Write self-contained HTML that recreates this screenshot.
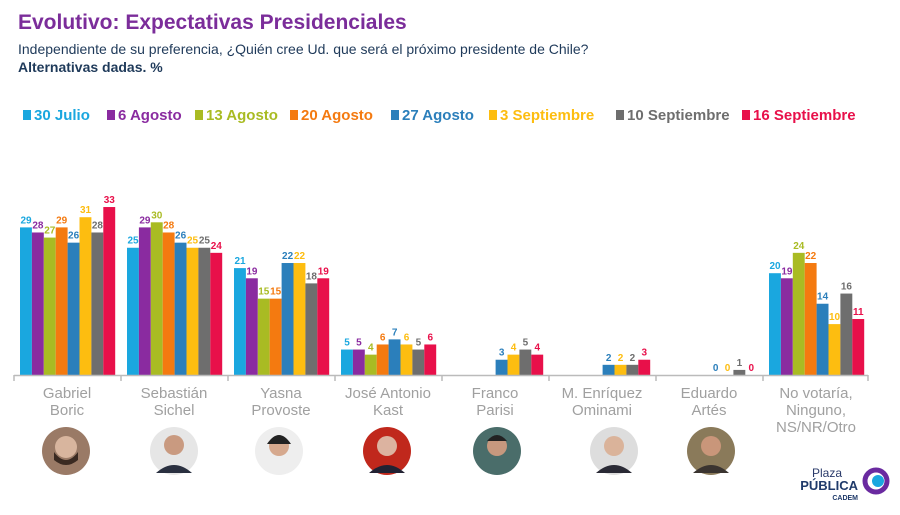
<!DOCTYPE html>
<html><head><meta charset="utf-8"><style>
body{margin:0;width:900px;height:510px;background:#fff;font-family:"Liberation Sans",sans-serif;overflow:hidden}
.c0{fill:#1aa7df}.c1{fill:#8a2ba0}.c2{fill:#a9bb23}.c3{fill:#f47a10}.c4{fill:#2b7fbb}.c5{fill:#fdbd10}.c6{fill:#6e6e6e}.c7{fill:#e8104a}
.v{font-size:10px;font-weight:bold;text-anchor:middle}
</style></head><body>
<svg width="900" height="510" xmlns="http://www.w3.org/2000/svg" font-family="Liberation Sans, sans-serif">
<text x="18" y="29" font-size="21" font-weight="bold" fill="#7b2d9a">Evolutivo: Expectativas Presidenciales</text>
<text x="18" y="54" font-size="14" fill="#1f3a5a">Independiente de su preferencia, ¿Quién cree Ud. que será el próximo presidente de Chile?</text>
<text x="18" y="72" font-size="14" font-weight="bold" fill="#1f3a5a">Alternativas dadas. %</text>
<g font-size="15" font-weight="bold">
<rect x="23" y="110" width="8" height="10" class="c0"/><text x="34" y="120" class="c0">30 Julio</text>
<rect x="107" y="110" width="8" height="10" class="c1"/><text x="118" y="120" class="c1">6 Agosto</text>
<rect x="195" y="110" width="8" height="10" class="c2"/><text x="206" y="120" class="c2">13 Agosto</text>
<rect x="290" y="110" width="8" height="10" class="c3"/><text x="301" y="120" class="c3">20 Agosto</text>
<rect x="391" y="110" width="8" height="10" class="c4"/><text x="402" y="120" class="c4">27 Agosto</text>
<rect x="489" y="110" width="8" height="10" class="c5"/><text x="500" y="120" class="c5">3 Septiembre</text>
<rect x="616" y="110" width="8" height="10" class="c6"/><text x="627" y="120" class="c6">10 Septiembre</text>
<rect x="742" y="110" width="8" height="10" class="c7"/><text x="753" y="120" class="c7">16 Septiembre</text>
</g>

<g transform="translate(20,0)">
<rect class="c0" x="0" y="227.39" width="11.9" height="147.61"/><text class="v c0" x="6" y="223.4">29</text>
<rect class="c1" x="11.9" y="232.48" width="11.9" height="142.52"/><text class="v c1" x="17.9" y="228.5">28</text>
<rect class="c2" x="23.8" y="237.57" width="11.9" height="137.43"/><text class="v c2" x="29.8" y="233.6">27</text>
<rect class="c3" x="35.7" y="227.39" width="11.9" height="147.61"/><text class="v c3" x="41.7" y="223.4">29</text>
<rect class="c4" x="47.6" y="242.66" width="11.9" height="132.34"/><text class="v c4" x="53.6" y="238.7">26</text>
<rect class="c5" x="59.5" y="217.21" width="11.9" height="157.79"/><text class="v c5" x="65.5" y="213.2">31</text>
<rect class="c6" x="71.4" y="232.48" width="11.9" height="142.52"/><text class="v c6" x="77.4" y="228.5">28</text>
<rect class="c7" x="83.3" y="207.03" width="11.9" height="167.97"/><text class="v c7" x="89.3" y="203">33</text>
</g>
<g transform="translate(127,0)">
<rect class="c0" x="0" y="247.75" width="11.9" height="127.25"/><text class="v c0" x="6" y="243.7">25</text>
<rect class="c1" x="11.9" y="227.39" width="11.9" height="147.61"/><text class="v c1" x="17.9" y="223.4">29</text>
<rect class="c2" x="23.8" y="222.3" width="11.9" height="152.7"/><text class="v c2" x="29.8" y="218.3">30</text>
<rect class="c3" x="35.7" y="232.48" width="11.9" height="142.52"/><text class="v c3" x="41.7" y="228.5">28</text>
<rect class="c4" x="47.6" y="242.66" width="11.9" height="132.34"/><text class="v c4" x="53.6" y="238.7">26</text>
<rect class="c5" x="59.5" y="247.75" width="11.9" height="127.25"/><text class="v c5" x="65.5" y="243.7">25</text>
<rect class="c6" x="71.4" y="247.75" width="11.9" height="127.25"/><text class="v c6" x="77.4" y="243.7">25</text>
<rect class="c7" x="83.3" y="252.84" width="11.9" height="122.16"/><text class="v c7" x="89.3" y="248.8">24</text>
</g>
<g transform="translate(234,0)">
<rect class="c0" x="0" y="268.11" width="11.9" height="106.89"/><text class="v c0" x="6" y="264.1">21</text>
<rect class="c1" x="11.9" y="278.29" width="11.9" height="96.71"/><text class="v c1" x="17.9" y="274.3">19</text>
<rect class="c2" x="23.8" y="298.65" width="11.9" height="76.35"/><text class="v c2" x="29.8" y="294.6">15</text>
<rect class="c3" x="35.7" y="298.65" width="11.9" height="76.35"/><text class="v c3" x="41.7" y="294.6">15</text>
<rect class="c4" x="47.6" y="263.02" width="11.9" height="111.98"/><text class="v c4" x="53.6" y="259">22</text>
<rect class="c5" x="59.5" y="263.02" width="11.9" height="111.98"/><text class="v c5" x="65.5" y="259">22</text>
<rect class="c6" x="71.4" y="283.38" width="11.9" height="91.62"/><text class="v c6" x="77.4" y="279.4">18</text>
<rect class="c7" x="83.3" y="278.29" width="11.9" height="96.71"/><text class="v c7" x="89.3" y="274.3">19</text>
</g>
<g transform="translate(341,0)">
<rect class="c0" x="0" y="349.55" width="11.9" height="25.45"/><text class="v c0" x="6" y="345.5">5</text>
<rect class="c1" x="11.9" y="349.55" width="11.9" height="25.45"/><text class="v c1" x="17.9" y="345.5">5</text>
<rect class="c2" x="23.8" y="354.64" width="11.9" height="20.36"/><text class="v c2" x="29.8" y="350.6">4</text>
<rect class="c3" x="35.7" y="344.46" width="11.9" height="30.54"/><text class="v c3" x="41.7" y="340.5">6</text>
<rect class="c4" x="47.6" y="339.37" width="11.9" height="35.63"/><text class="v c4" x="53.6" y="335.4">7</text>
<rect class="c5" x="59.5" y="344.46" width="11.9" height="30.54"/><text class="v c5" x="65.5" y="340.5">6</text>
<rect class="c6" x="71.4" y="349.55" width="11.9" height="25.45"/><text class="v c6" x="77.4" y="345.5">5</text>
<rect class="c7" x="83.3" y="344.46" width="11.9" height="30.54"/><text class="v c7" x="89.3" y="340.5">6</text>
</g>
<g transform="translate(448,0)">
<rect class="c4" x="47.6" y="359.73" width="11.9" height="15.27"/><text class="v c4" x="53.6" y="355.7">3</text>
<rect class="c5" x="59.5" y="354.64" width="11.9" height="20.36"/><text class="v c5" x="65.5" y="350.6">4</text>
<rect class="c6" x="71.4" y="349.55" width="11.9" height="25.45"/><text class="v c6" x="77.4" y="345.5">5</text>
<rect class="c7" x="83.3" y="354.64" width="11.9" height="20.36"/><text class="v c7" x="89.3" y="350.6">4</text>
</g>
<g transform="translate(555,0)">
<rect class="c4" x="47.6" y="364.82" width="11.9" height="10.18"/><text class="v c4" x="53.6" y="360.8">2</text>
<rect class="c5" x="59.5" y="364.82" width="11.9" height="10.18"/><text class="v c5" x="65.5" y="360.8">2</text>
<rect class="c6" x="71.4" y="364.82" width="11.9" height="10.18"/><text class="v c6" x="77.4" y="360.8">2</text>
<rect class="c7" x="83.3" y="359.73" width="11.9" height="15.27"/><text class="v c7" x="89.3" y="355.7">3</text>
</g>
<g transform="translate(662,0)">
<text class="v c4" x="53.6" y="371">0</text>
<text class="v c5" x="65.5" y="371">0</text>
<rect class="c6" x="71.4" y="369.91" width="11.9" height="5.09"/><text class="v c6" x="77.4" y="365.9">1</text>
<text class="v c7" x="89.3" y="371">0</text>
</g>
<g transform="translate(769,0)">
<rect class="c0" x="0" y="273.2" width="11.9" height="101.8"/><text class="v c0" x="6" y="269.2">20</text>
<rect class="c1" x="11.9" y="278.29" width="11.9" height="96.71"/><text class="v c1" x="17.9" y="274.3">19</text>
<rect class="c2" x="23.8" y="252.84" width="11.9" height="122.16"/><text class="v c2" x="29.8" y="248.8">24</text>
<rect class="c3" x="35.7" y="263.02" width="11.9" height="111.98"/><text class="v c3" x="41.7" y="259">22</text>
<rect class="c4" x="47.6" y="303.74" width="11.9" height="71.26"/><text class="v c4" x="53.6" y="299.7">14</text>
<rect class="c5" x="59.5" y="324.1" width="11.9" height="50.9"/><text class="v c5" x="65.5" y="320.1">10</text>
<rect class="c6" x="71.4" y="293.56" width="11.9" height="81.44"/><text class="v c6" x="77.4" y="289.6">16</text>
<rect class="c7" x="83.3" y="319.01" width="11.9" height="55.99"/><text class="v c7" x="89.3" y="315">11</text>
</g>

<line x1="14" y1="375.5" x2="868" y2="375.5" stroke="#bbb" stroke-width="1.5"/>
<g stroke="#bbb" stroke-width="1.5">
<line x1="14" y1="375" x2="14" y2="381"/><line x1="121" y1="375" x2="121" y2="381"/><line x1="228" y1="375" x2="228" y2="381"/><line x1="335" y1="375" x2="335" y2="381"/><line x1="442" y1="375" x2="442" y2="381"/><line x1="549" y1="375" x2="549" y2="381"/><line x1="656" y1="375" x2="656" y2="381"/><line x1="763" y1="375" x2="763" y2="381"/><line x1="868" y1="375" x2="868" y2="381"/>
</g>
<g font-size="15" fill="#a0a0a0" text-anchor="middle">
<text x="67" y="398">Gabriel</text><text x="67" y="415">Boric</text>
<text x="174" y="398">Sebastián</text><text x="174" y="415">Sichel</text>
<text x="281" y="398">Yasna</text><text x="281" y="415">Provoste</text>
<text x="388" y="398">José Antonio</text><text x="388" y="415">Kast</text>
<text x="495" y="398">Franco</text><text x="495" y="415">Parisi</text>
<text x="602" y="398">M. Enríquez</text><text x="602" y="415">Ominami</text>
<text x="709" y="398">Eduardo</text><text x="709" y="415">Artés</text>
<text x="816" y="398">No votaría,</text><text x="816" y="415">Ninguno,</text><text x="816" y="432">NS/NR/Otro</text>
</g>
<g>
<circle cx="66" cy="451" r="24" fill="#9a7a66"/><circle cx="66" cy="447" r="11" fill="#d8b59e"/><path d="M54 452 q12 16 24 0 v8 q-12 10 -24 0z" fill="#3a2a22"/>
<circle cx="174" cy="451" r="24" fill="#e6e6e6"/><circle cx="174" cy="445" r="10" fill="#c99a80"/><path d="M156 473 q18 -16 36 0z" fill="#2a3040"/>
<circle cx="279" cy="451" r="24" fill="#eee"/><circle cx="279" cy="446" r="10" fill="#d6a98e"/><path d="M267 444 q12 -18 24 0" fill="#222"/>
<circle cx="387" cy="451" r="24" fill="#c0281c"/><circle cx="387" cy="446" r="10" fill="#dcb3a0"/><path d="M369 473 q18 -16 36 0z" fill="#223"/>
<circle cx="497" cy="451" r="24" fill="#4a6d6a"/><circle cx="497" cy="446" r="10" fill="#c6987e"/><path d="M487 441 q10 -12 20 0" fill="#222"/>
<circle cx="614" cy="451" r="24" fill="#ddd"/><circle cx="614" cy="446" r="10" fill="#dab39a"/><path d="M596 473 q18 -16 36 0z" fill="#2a2a35"/>
<circle cx="711" cy="451" r="24" fill="#8a7a5a"/><circle cx="711" cy="446" r="10" fill="#c9967a"/><path d="M693 473 q18 -16 36 0z" fill="#3a3430"/>
</g>
<text x="842" y="477" font-size="12" fill="#2a3a6a" text-anchor="end">Plaza</text>
<text x="858" y="490" font-size="13" font-weight="bold" fill="#1f3a6a" text-anchor="end">PÚBLICA</text>
<text x="858" y="500" font-size="7" font-weight="bold" fill="#1f3a6a" text-anchor="end">CADEM</text>
<circle cx="876" cy="481" r="11" fill="none" stroke="#6a2aa0" stroke-width="5"/>
<circle cx="878" cy="481" r="6" fill="#1aa7df"/>
</svg>
</body></html>
